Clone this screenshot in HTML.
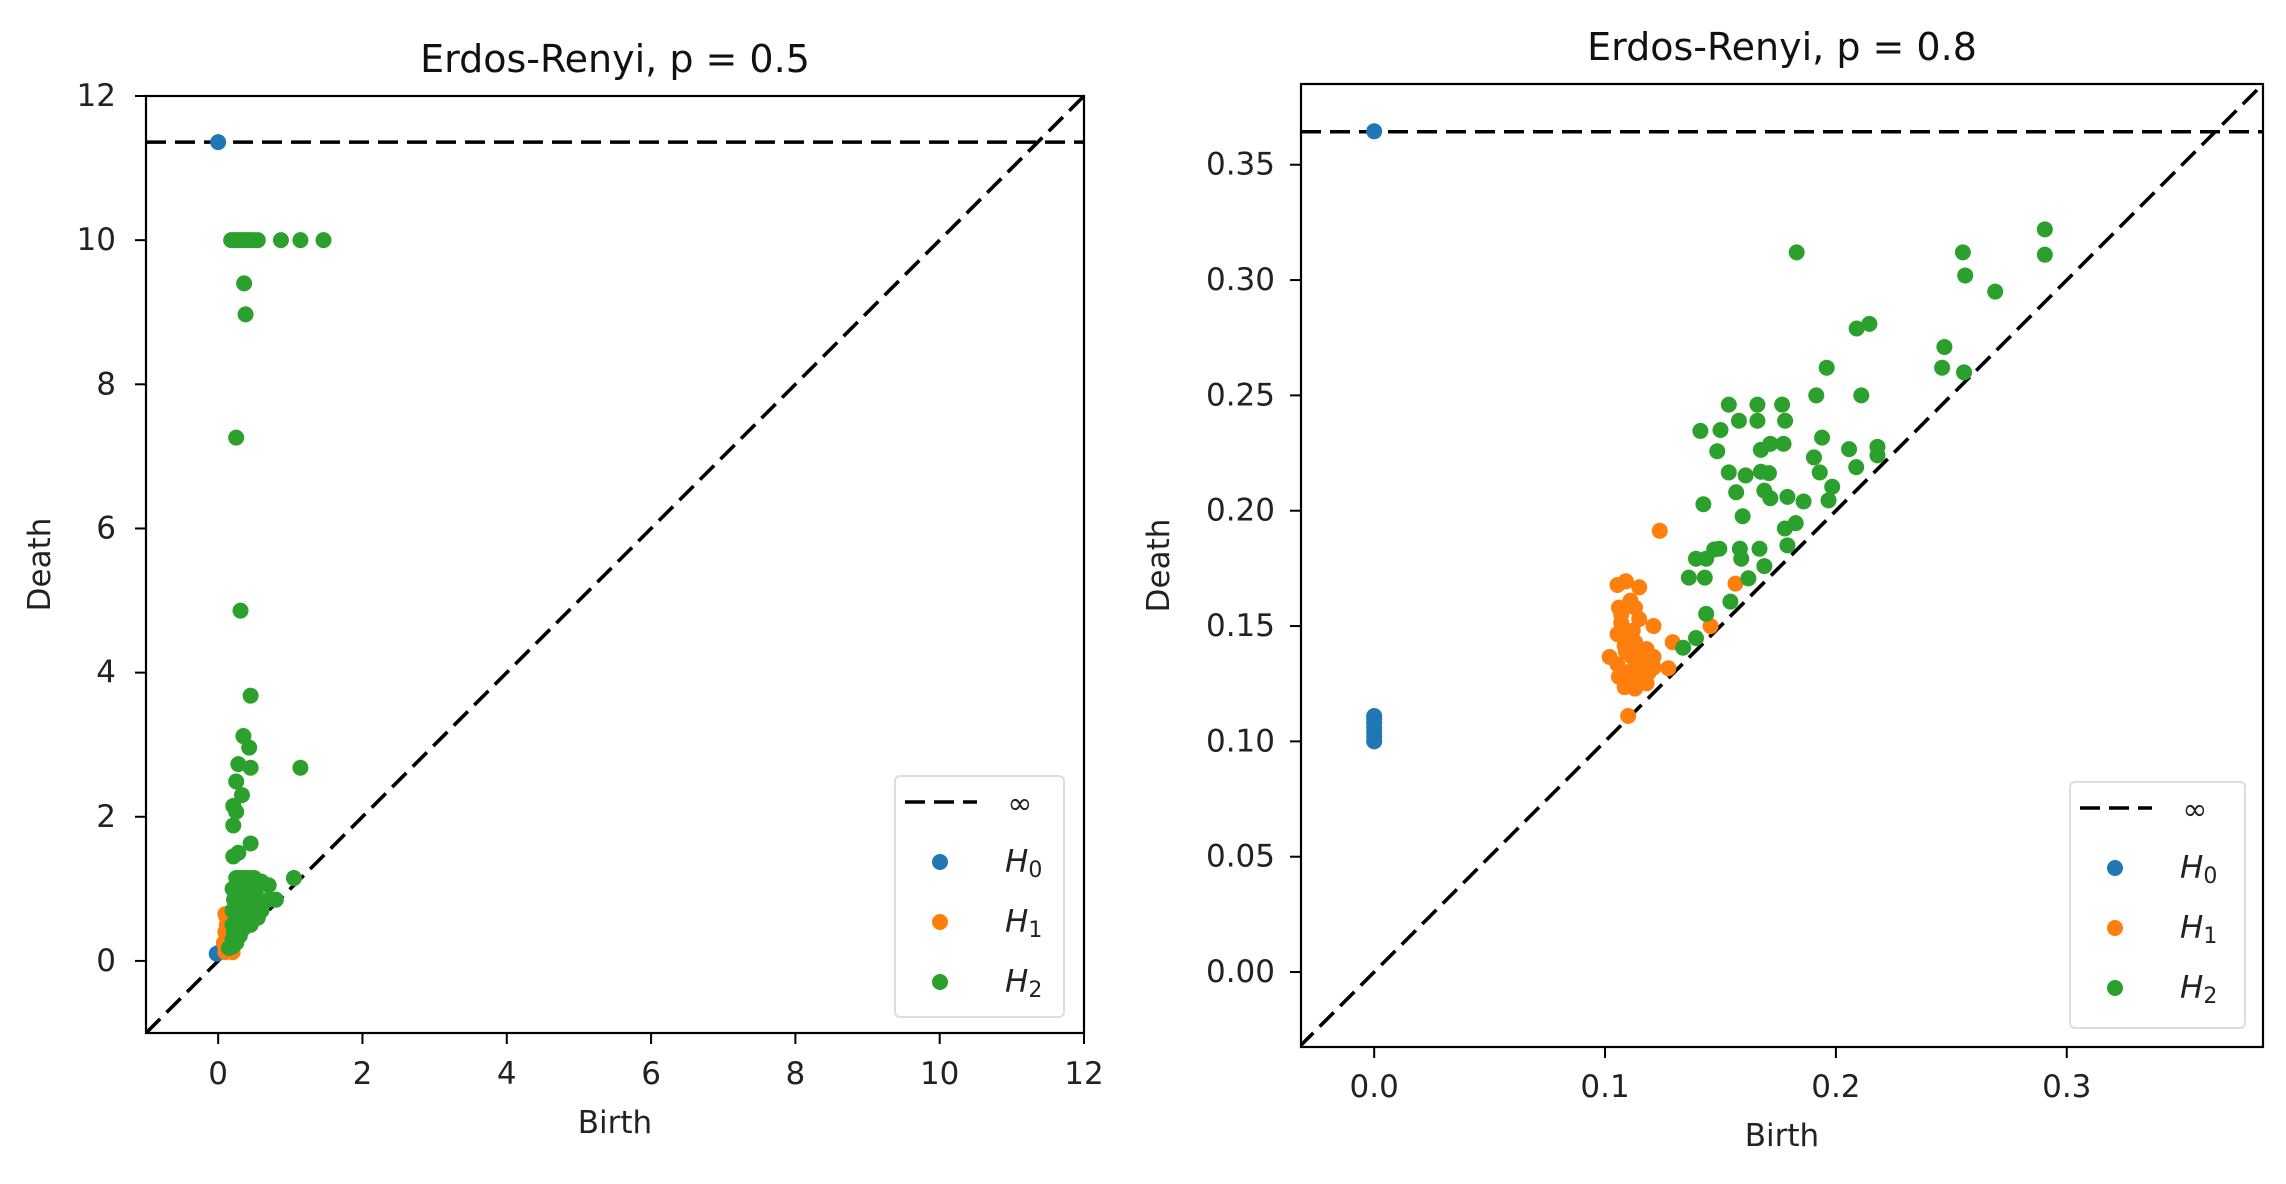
<!DOCTYPE html>
<html><head><meta charset="utf-8"><style>
html,body{margin:0;padding:0;background:#fff;}
svg{display:block;font-family:"DejaVu Sans","Liberation Sans",sans-serif;}
</style></head><body>
<svg id="fig" width="2286" height="1184" viewBox="0 0 2286 1184" xmlns="http://www.w3.org/2000/svg"></svg>
<script>
// ---------- Left chart data (Erdos-Renyi p=0.5) ----------
const leftTitle = "Erdos-Renyi, p = 0.5";
const leftTicks = [0, 2, 4, 6, 8, 10, 12];
const leftTickLabels = ["0", "2", "4", "6", "8", "10", "12"];
const leftInf = 11.36;
const leftH0x = [0, 0, -0.02];
const leftH0y = [11.36, 0.11, 0.1];
const leftH1x = [0.1, 0.12, 0.1, 0.12, 0.1, 0.15, 0.2, 0.08, 0.12, 0.1, 0.14, 0.16];
const leftH1y = [0.65, 0.5, 0.4, 0.3, 0.2, 0.15, 0.12, 0.25, 0.6, 0.12, 0.45, 0.35];
const leftH2x = [0.18,0.22,0.26,0.30,0.34,0.38,0.42,0.46,0.5,0.55,0.87,1.14,1.46,
  0.36,0.38,0.25,0.31,0.45,0.35,0.43,1.14,0.28,0.45,0.25,0.33,0.21,0.25,0.21,0.45,0.28,0.21,
  0.25,0.3,0.35,0.4,0.45,0.5,0.6,0.7,1.05,0.2,0.25,0.3,0.2,0.25,0.2,0.22,0.2,0.4,0.5,0.6,0.7,0.8,0.55,0.45,0.35,0.3,0.6,0.5,0.4,0.35,0.45,0.25,0.2,0.15,0.3,
  0.22,0.28,0.32,0.38,0.42,0.48,0.52,0.3,0.36,0.26,0.34,0.4,0.24,0.3];
const leftH2y = [10,10,10,10,10,10,10,10,10,10,10,10,10,
  9.40,8.97,7.26,4.86,3.68,3.12,2.96,2.68,2.73,2.68,2.49,2.30,2.15,2.07,1.88,1.63,1.50,1.45,
  1.15,1.15,1.15,1.15,1.15,1.15,1.1,1.05,1.15,1.0,0.9,0.8,0.7,0.6,0.5,0.4,0.3,1.0,0.9,0.8,0.85,0.85,0.6,0.5,0.45,0.35,0.7,0.7,0.65,0.8,0.85,0.25,0.2,0.18,1.05,
  0.85,0.95,0.7,0.9,0.75,0.8,0.95,0.55,0.6,0.45,0.5,0.55,0.35,0.4];

// ---------- Right chart data (Erdos-Renyi p=0.8) ----------
const rightTitle = "Erdos-Renyi, p = 0.8";
const rightXTicks = [0, 0.1, 0.2, 0.3];
const rightXTickLabels = ["0.0", "0.1", "0.2", "0.3"];
const rightYTicks = [0, 0.05, 0.1, 0.15, 0.2, 0.25, 0.3, 0.35];
const rightYTickLabels = ["0.00", "0.05", "0.10", "0.15", "0.20", "0.25", "0.30", "0.35"];
const rightInf = 0.3643;
const rightH0x = [0, 0, 0, 0, 0, 0, 0, 0];
const rightH0y = [0.3645, 0.100, 0.102, 0.104, 0.106, 0.108, 0.110, 0.111];
const rightH1x = [0.1237,0.1565,0.1054,0.109,0.1148,0.106,0.111,0.1148,0.121,0.1054,0.1085,0.113,0.118,0.121,0.1054,0.110,0.1148,0.1085,0.113,0.118,0.1274,0.1293,0.1457,0.110,0.1117,0.1196,0.102,0.107,
  0.108,0.112,0.116,0.109,0.114,0.119,0.106,0.111,0.116,0.121,0.107,0.113];
const rightH1y = [0.1913,0.1684,0.1678,0.1694,0.1668,0.158,0.161,0.153,0.150,0.1465,0.1415,0.143,0.140,0.1366,0.1334,0.130,0.1317,0.1235,0.1229,0.1252,0.1317,0.143,0.150,0.111,0.1366,0.1334,0.1366,0.1514,
  0.145,0.148,0.138,0.139,0.135,0.130,0.128,0.126,0.127,0.132,0.155,0.158];
const rightH2x = [0.183,0.255,0.2905,0.2905,0.256,0.269,0.209,0.2145,0.247,0.246,0.2555,0.196,0.1915,0.211,0.1536,0.166,0.1767,0.1413,0.150,0.158,0.166,0.178,0.194,0.2057,0.218,0.218,0.1486,0.1675,0.1716,0.1773,0.1905,0.193,0.2088,0.1536,0.1609,0.1675,0.171,0.1568,0.169,0.1716,0.179,0.186,0.1984,0.1968,0.1426,0.1596,0.1826,0.1779,0.1473,0.1394,0.1495,0.1584,0.1669,0.159,0.169,0.1438,0.1363,0.1432,0.1621,0.1543,0.1438,0.1394,0.1338,0.179];
const rightH2y = [0.312,0.312,0.322,0.311,0.302,0.295,0.279,0.281,0.271,0.262,0.260,0.262,0.250,0.250,0.246,0.246,0.246,0.2346,0.235,0.239,0.239,0.239,0.2317,0.2267,0.2277,0.224,0.2258,0.2264,0.229,0.229,0.2231,0.2166,0.2189,0.2166,0.2153,0.2169,0.2163,0.208,0.2087,0.2054,0.206,0.204,0.2104,0.2045,0.2028,0.1976,0.1946,0.1923,0.1832,0.1792,0.1835,0.1835,0.1835,0.1792,0.176,0.1792,0.171,0.171,0.1707,0.1606,0.1553,0.1448,0.1406,0.185];

const C0 = "#1f77b4", C1 = "#ff7f0e", C2 = "#2ca02c";
const NS = "http://www.w3.org/2000/svg";
const svg = document.getElementById("fig");
function mk(tag, attrs, parent) {
  const e = document.createElementNS(NS, tag);
  for (const k in attrs) e.setAttribute(k, attrs[k]);
  (parent || svg).appendChild(e);
  return e;
}
function scale(d0, d1, r0, r1) { return v => r0 + (v - d0) / (d1 - d0) * (r1 - r0); }

function drawPanel(cfg) {
  const g = mk("g", {});
  
  
  const X = scale(cfg.xd[0], cfg.xd[1], cfg.box[0], cfg.box[2]);
  const Y = scale(cfg.yd[0], cfg.yd[1], cfg.box[3], cfg.box[1]);
  const [L, T, R, B] = cfg.box;
  const t = mk("text", {x: (L + R) / 2, y: cfg.titleY, "text-anchor": "middle", "dominant-baseline": "central", "font-size": 38, fill: "#111"}, g);
  t.textContent = cfg.title;
  
  
  const cid = "clip-" + cfg.name;
  const cp = mk("clipPath", {id: cid}, g);
  mk("rect", {x: L, y: T, width: R - L, height: B - T}, cp);
  const plot = mk("g", {"clip-path": "url(#" + cid + ")"}, g);
  const lo = Math.min(cfg.xd[0], cfg.yd[0]), hi = Math.max(cfg.xd[1], cfg.yd[1]);
  const diag = mk("line", {x1: X(lo), y1: Y(lo), x2: X(hi), y2: Y(hi), stroke: "#000", "stroke-width": 3.6, "stroke-dasharray": "20 9"}, plot);
  
  
  const inf = mk("line", {x1: L, y1: Y(cfg.inf), x2: R, y2: Y(cfg.inf), stroke: "#000", "stroke-width": 3.6, "stroke-dasharray": "20 9"}, plot);
  
  
  const series = [[cfg.h0x, cfg.h0y, C0, "h0"], [cfg.h1x, cfg.h1y, C1, "h1"], [cfg.h2x, cfg.h2y, C2, "h2"]];
  series.forEach(([xs, ys, col, nm]) => {
    xs.forEach((xv, i) => {
      const c = mk("circle", {cx: X(xv), cy: Y(ys[i]), r: 8, fill: col}, plot);
      
      
    });
  });
  mk("rect", {x: L, y: T, width: R - L, height: B - T, fill: "none", stroke: "#000", "stroke-width": 2.2}, g);
  cfg.xt.forEach((v, i) => {
    mk("line", {x1: X(v), y1: B, x2: X(v), y2: B + 11, stroke: "#000", "stroke-width": 2}, g);
    const tx = mk("text", {x: X(v), y: cfg.xTickY, "text-anchor": "middle", "dominant-baseline": "central", "font-size": 31, fill: "#222"}, g);
    tx.textContent = cfg.xtl[i];
    
    
  });
  cfg.yt.forEach((v, i) => {
    mk("line", {x1: L - 11, y1: Y(v), x2: L, y2: Y(v), stroke: "#000", "stroke-width": 2}, g);
    const ty = mk("text", {x: cfg.yTickX, y: Y(v), "text-anchor": "end", "dominant-baseline": "central", "font-size": 31, fill: "#222"}, g);
    ty.textContent = cfg.ytl[i];
    
    
  });
  const xl = mk("text", {x: (L + R) / 2, y: cfg.xLabelY, "text-anchor": "middle", "dominant-baseline": "central", "font-size": 31, fill: "#222"}, g);
  xl.textContent = "Birth";
  
  
  const yl = mk("text", {x: 0, y: 0, transform: "translate(" + cfg.yLabelX + "," + ((T + B) / 2) + ") rotate(-90)", "text-anchor": "middle", "dominant-baseline": "central", "font-size": 31, fill: "#222"}, g);
  yl.textContent = "Death";
  
  
  const lg = mk("g", {}, g);
  
  
  const lb = cfg.leg;
  mk("rect", {x: lb.x, y: lb.y, width: lb.w, height: lb.h, rx: 5, fill: "#fff", "fill-opacity": 0.8, stroke: "#ddd", "stroke-width": 2}, lg);
  mk("line", {x1: lb.x + 10, y1: lb.y + 26, x2: lb.x + 82, y2: lb.y + 26, stroke: "#000", "stroke-width": 3.6, "stroke-dasharray": "20 9"}, lg);
  const it = mk("text", {x: lb.x + 125, y: lb.y + 28, "text-anchor": "middle", "dominant-baseline": "central", "font-size": 30, fill: "#222"}, lg);
  it.textContent = "∞";
  
  
  [[C0, "0"], [C1, "1"], [C2, "2"]].forEach(([col, sub], i) => {
    const yy = lb.y + 86 + i * 60;
    mk("circle", {cx: lb.x + 45, cy: yy, r: 8, fill: col}, lg);
    const tt = mk("text", {x: lb.x + 110, y: yy, "dominant-baseline": "central", "font-size": 31, fill: "#222"}, lg);
    const ts = mk("tspan", {"font-style": "italic"}, tt); ts.textContent = "H";
    const sb = mk("tspan", {"font-size": 22, dy: 8}, tt); sb.textContent = sub;
    
    
  });
}

drawPanel({name: "left-chart", title: leftTitle, box: [146, 96, 1084, 1033], xd: [-1, 12], yd: [-1, 12],
  xt: leftTicks, xtl: leftTickLabels, yt: leftTicks, ytl: leftTickLabels, inf: leftInf,
  h0x: leftH0x, h0y: leftH0y, h1x: leftH1x, h1y: leftH1y, h2x: leftH2x, h2y: leftH2y,
  titleY: 59, xTickY: 1074, yTickX: 116, xLabelY: 1123, yLabelX: 40,
  leg: {x: 895, y: 776, w: 169, h: 241}});
drawPanel({name: "right-chart", title: rightTitle, box: [1301, 84, 2263, 1047], xd: [-0.0317, 0.385], yd: [-0.0325, 0.385],
  xt: rightXTicks, xtl: rightXTickLabels, yt: rightYTicks, ytl: rightYTickLabels, inf: rightInf,
  h0x: rightH0x, h0y: rightH0y, h1x: rightH1x, h1y: rightH1y, h2x: rightH2x, h2y: rightH2y,
  titleY: 47, xTickY: 1087, yTickX: 1275, xLabelY: 1136, yLabelX: 1159,
  leg: {x: 2070, y: 782, w: 175, h: 246}});
</script>
</body></html>
